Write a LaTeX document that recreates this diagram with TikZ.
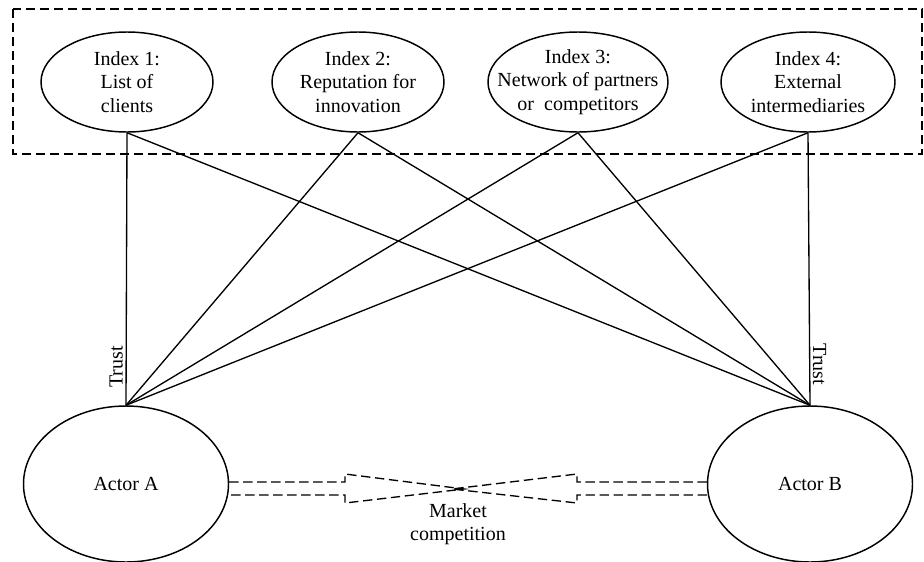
\documentclass[tikz,border=0pt]{standalone}
\usepackage{fontspec}
\setmainfont{Liberation Serif}
\usetikzlibrary{shapes.geometric,calc}

\begin{document}
\begin{tikzpicture}[
  x=0.75pt, y=-0.75pt,
  index/.style={draw,ellipse,line width=1.1pt,inner sep=0pt,minimum width=129pt,minimum height=75pt},
  indextext/.style={align=center,inner sep=0pt,font=\fontsize{15}{17.5}\selectfont},
  actor/.style={draw,ellipse,line width=1.1pt,inner sep=0pt,minimum width=153.75pt,minimum height=117pt,font=\fontsize{15}{17.5}\selectfont},
  link/.style={line width=1pt},
  dashline/.style={line width=1pt,dash pattern=on 7pt off 3.5pt},
  trust/.style={inner sep=2pt,font=\fontsize{15}{17.5}\selectfont}
]
\useasboundingbox (0,0) rectangle (924,561);
% dashed frame round the four indices
\draw[dashline] (13,9) rectangle (922,154);

\node[index] (i1) at (127,82) {};
\node[index] (i2) at (358,82) {};
\node[index,minimum width=135pt] (i3) at (578,82) {};
\node[index,minimum width=130.5pt] (i4) at (808,82) {};
\node[indextext] (t1) at (i1) {Index 1:\\List of\\clients};
\node[indextext] (t2) at (i2) {Index 2:\\Reputation for\\innovation};
\node[indextext] (t3) at (i3) {Index 3:\\Network of partners\\or\ \ competitors};
\node[indextext] (t4) at (i4) {Index 4:\\External\\intermediaries};

\node[actor] (actA) at (126,484) {Actor A};
\node[actor] (actB) at (810,484) {Actor B};

\draw[link] (i1.south) -- node[trust,pos=0.86,rotate=90,anchor=south] {Trust} (actA.north);
\draw[link] (i1.south) -- (actB.north);
\draw[link] (i2.south) -- (actA.north);
\draw[link] (i2.south) -- (actB.north);
\draw[link] (i3.south) -- (actA.north);
\draw[link] (i3.south) -- (actB.north);
\draw[link] (i4.south) -- (actA.north);
\draw[link] (i4.south) -- node[trust,pos=0.85,rotate=-90,anchor=south] {Trust} (actB.north);

% market competition: two hollow arrows
\coordinate (tipL) at (464,489);
\coordinate (tipR) at (452,489);
\draw[dashline] ($(actA.east)+(0,-2)$) -- (345,482) -- (345,474) -- (tipL)
  -- (345,503) -- (345,495) -- ($(actA.east)+(0,11)$);
\draw[dashline] ($(actB.west)+(0,-2)$) -- (577,482) -- (577,474) -- (tipR)
  -- (577,503) -- (577,495) -- ($(actB.west)+(0,11)$);
\node[indextext,font=\fontsize{15}{17.25}\selectfont] (market) at (458,524) {Market\\competition};
\end{tikzpicture}
\end{document}
